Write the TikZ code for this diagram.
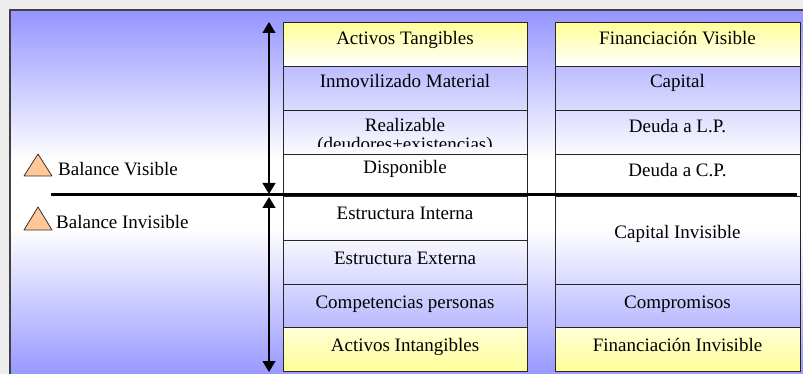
\documentclass[tikz,border=0pt]{standalone}
\usepackage{fontspec}
\setmainfont{Liberation Serif}
\usetikzlibrary{arrows.meta}
\definecolor{bgblue}{HTML}{9494FF}
\definecolor{yel}{HTML}{FFFF99}
\definecolor{tri}{HTML}{FFC896}
\begin{document}
\begin{tikzpicture}[x=1pt,y=-1pt,
  cell/.style={draw=black!85,line width=1.1pt,minimum width=244pt,inner sep=0pt,anchor=north west},
  rcell/.style={cell,minimum width=245pt},
  yeltop/.style={top color=yel,bottom color=white},
  yelbot/.style={top color=white!60!yel,bottom color=yel},
  lbl/.style={font=\fontsize{19}{19}\selectfont,inner sep=0pt,anchor=base},
  dim/.style={line width=1.2pt,{Triangle[width=13pt,length=11pt]}-{Triangle[width=13pt,length=11pt]}},
  warn/.style={fill=tri,draw=black!80,line width=0.8pt,line join=round}]
\useasboundingbox (0,0) rectangle (803,374);
\clip (0,0) rectangle (803,374);
\fill[black!7] (0,0) rectangle (803,374);
% framed background
\shade[top color=bgblue,bottom color=white] (10,10) rectangle (810,160);
\fill[white] (10,159) rectangle (810,229);
\shade[top color=white,bottom color=bgblue] (10,228) rectangle (810,380);
\draw[black!75,line width=1.5pt] (10,380) -- (10,10) -- (810,10);
% left column cells
\node[cell,yeltop,minimum height=44pt] (c1) at (283,22) {};
\node[cell,minimum height=44pt] (c2) at (283,66) {};
\node[cell,minimum height=44pt] (c3) at (283,110) {};
\node[cell,minimum height=42pt] (c4) at (283,154) {};
\node[cell,minimum height=44pt] (c5) at (283,196) {};
\node[cell,minimum height=44pt] (c6) at (283,240) {};
\node[cell,minimum height=43pt] (c7) at (283,284) {};
\node[cell,yelbot,minimum height=44pt] (c8) at (283,327) {};
% right column cells
\node[rcell,yeltop,minimum height=44pt] (r1) at (555,22) {};
\node[rcell,minimum height=44pt] (r2) at (555,66) {};
\node[rcell,minimum height=44pt] (r3) at (555,110) {};
\node[rcell,minimum height=42pt] (r4) at (555,154) {};
\node[rcell,minimum height=88pt] (r5) at (555,196) {};
\node[rcell,minimum height=43pt] (r7) at (555,284) {};
\node[rcell,yelbot,minimum height=44pt] (r8) at (555,327) {};
% left labels
\node[lbl] (t1) at (405,45) {Activos Tangibles};
\node[lbl] (t2) at (405,88) {Inmovilizado Material};
\begin{scope}
\clip (283,111) rectangle (527,146.5);
\node[lbl,align=center,anchor=north,font=\fontsize{19}{19}\selectfont] (t3) at (405,118.5) {Realizable\\(deudores+existencias)};
\end{scope}
\node[lbl] (t4) at (405,174) {Disponible};
\node[lbl] (t5) at (405,219) {Estructura Interna};
\node[lbl] (t6) at (405,264) {Estructura Externa};
\node[lbl] (t7) at (405,308) {Competencias personas};
\node[lbl] (t8) at (405,351) {Activos Intangibles};
% right labels
\node[lbl] (s1) at (677.5,45) {Financiación Visible};
\node[lbl] (s2) at (677.5,88) {Capital};
\node[lbl] (s3) at (677.5,133) {Deuda a L.P.};
\node[lbl] (s4) at (677.5,177) {Deuda a C.P.};
\node[lbl] (s5) at (677.5,238) {Capital Invisible};
\node[lbl] (s7) at (677.5,308) {Compromisos};
\node[lbl] (s8) at (677.5,351) {Financiación Invisible};
% dividing line
\coordinate (hl) at (51,195);
\coordinate (hr) at (797,195);
\draw[line width=3pt] (hl) -- (hr);
% vertical dimension arrows
\coordinate (atop) at (269,22);
\coordinate (amid1) at (269,194);
\coordinate (amid2) at (269,197);
\coordinate (abot) at (269,372);
\draw[dim] (atop) -- (amid1);
\draw[dim] (amid2) -- (abot);
% warning triangles and captions
\draw[warn] (24,176) -- (38,154) -- (52,176) -- cycle;
\node[lbl,anchor=base west] (bv) at (58,176) {Balance Visible};
\draw[warn] (24,230) -- (38,207) -- (52,230) -- cycle;
\node[lbl,anchor=base west] (bi) at (56,229) {Balance Invisible};
\end{tikzpicture}
\end{document}
